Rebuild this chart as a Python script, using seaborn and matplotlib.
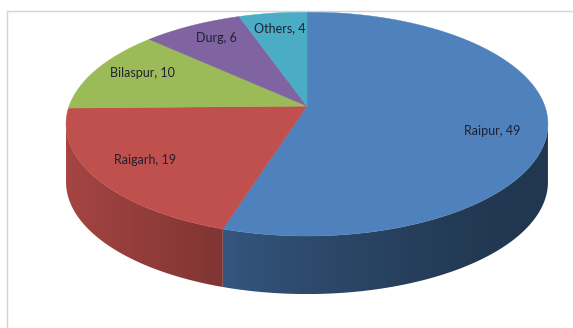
import numpy as np
import matplotlib.pyplot as plt
import seaborn as sns
from matplotlib.colors import to_rgb
from matplotlib.patches import Polygon, Rectangle

districts = ['Raipur', 'Raigarh', 'Bilaspur', 'Durg', 'Others']
counts = [49, 19, 10, 6, 4]
colors = ['#4F81BD', '#C0504D', '#9BBB59', '#8064A2', '#4BACC6']

sns.set_theme(style='white')
plt.rcParams['font.family'] = ['Lato', 'DejaVu Sans']

fig = plt.figure(figsize=(5.73, 3.28), dpi=100)
ax = fig.add_axes([0, 0, 1, 1])
ax.set_xlim(-1.274, 1.104)
ax.set_ylim(-1.821, 1.107)
ax.axis('off')

# fake 3d pie: unit circle squashed by the axes aspect
depth = 0.518
apex = (0.0, 0.16)

vals = np.array(counts, dtype=float)
ends = 90 - 360 * np.cumsum(vals) / vals.sum()
starts = np.r_[90, ends[:-1]]

# side walls (only the front half shows), lit from the left
gx = np.linspace(-1, 1, 400)
for s, e, col in zip(starts, ends, colors):
    lo, hi = max(e, -180), min(s, 0)
    if lo >= hi:
        continue
    th = np.radians(np.linspace(lo, hi, 100))
    xs = np.r_[np.cos(th), np.cos(th[::-1])]
    ys = np.r_[np.sin(th), np.sin(th[::-1]) - depth]
    poly = Polygon(np.c_[xs, ys], closed=True, fc='none', ec='none')
    ax.add_patch(poly)
    f = 0.42 + 0.44 * ((1 - gx) / 2) ** 1.5
    img = np.clip(np.outer(np.ones(2), f)[:, :, None] * np.array(to_rgb(col)), 0, 1)
    im = ax.imshow(img, extent=(-1, 1, -1 - depth, 0), aspect='auto',
                   interpolation='bilinear', zorder=1)
    im.set_clip_path(poly)

# top faces
for s, e, col in zip(starts, ends, colors):
    th = np.radians(np.linspace(s, e, 120))
    xs = np.r_[apex[0], np.cos(th)]
    ys = np.r_[apex[1], np.sin(th)]
    ax.fill(xs, ys, color=col, lw=0.3, ec=col, zorder=2)

# data labels
r = 0.78
for name, v, s, e in zip(districts, counts, starts, ends):
    m = np.radians((s + e) / 2)
    ax.text(r * np.cos(m), 0.08 + r * np.sin(m), f'{name}, {v}',
            ha='center', va='center', fontsize=9, color='#202030', zorder=3)

fig.patches.append(Rectangle((7 / 573, -0.01), 1, 1 - 11 / 328 + 0.01,
                             transform=fig.transFigure, fill=False,
                             ec='#d4d4d4', lw=1))

fig.savefig('out.png', dpi=100)
